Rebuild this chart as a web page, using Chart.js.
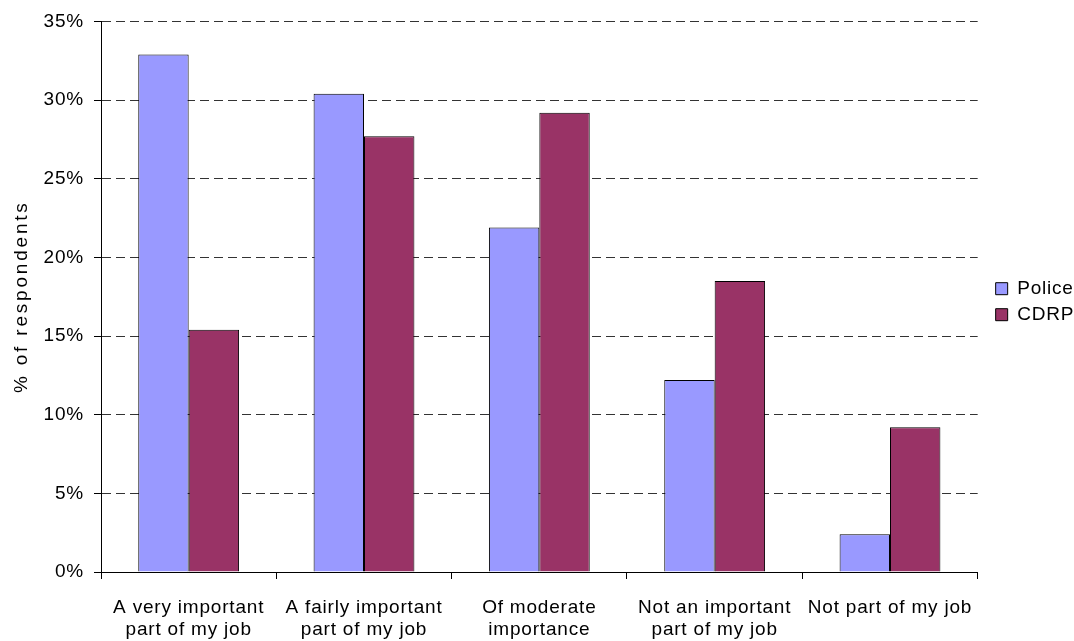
<!DOCTYPE html>
<html>
<head>
<meta charset="utf-8">
<script src="https://cdn.jsdelivr.net/npm/chart.js@4/dist/chart.umd.min.js"></script>
<style>
  html, body { margin: 0; padding: 0; background: #fff; }
  #wrap { width: 1074px; height: 641px; }
</style>
</head>
<body>
<div id="wrap"><canvas id="c" width="1074" height="641"></canvas></div>
<script>
// Importance of the issue to respondents' jobs, by group
const categories = [
  ['A very important', 'part of my job'],
  ['A fairly important', 'part of my job'],
  ['Of moderate', 'importance'],
  ['Not an important', 'part of my job'],
  'Not part of my job'
];
const policeValues = [32.9, 30.4, 21.9, 12.2, 2.4];
const cdrpValues = [15.4, 27.7, 29.2, 18.5, 9.2];
const yTickValues = [0, 5, 10, 15, 20, 25, 30, 35];

const FONT = 'Liberation Sans, Arial, sans-serif';
const TEXT_SPACING = '0.8px';
const TITLE_SPACING = '2.8px';

const canvas = document.getElementById('c');
canvas.getContext('2d').letterSpacing = TEXT_SPACING;

new Chart(canvas, {
  type: 'bar',
  data: {
    labels: categories,
    datasets: [
      { label: 'Police', data: policeValues, backgroundColor: '#9999FF', borderColor: '#000', borderWidth: 1 },
      { label: 'CDRP', data: cdrpValues, backgroundColor: '#993366', borderColor: '#000', borderWidth: 1 }
    ]
  },
  options: {
    responsive: false,
    animation: false,
    devicePixelRatio: 1,
    layout: { padding: { top: 18, right: 4, left: 0, bottom: 0 } },
    datasets: { bar: { categoryPercentage: 0.575, barPercentage: 1.0 } },
    plugins: {
      legend: {
        position: 'right',
        fullSize: false,
        labels: {
          font: { family: FONT, size: 19 },
          color: '#000',
          boxWidth: 12,
          boxHeight: 12,
          padding: 7
        }
      },
      tooltip: { enabled: false }
    },
    scales: {
      x: {
        afterFit: s => { s.height = 69; },
        grid: { offset: true, drawOnChartArea: false, color: '#000', tickLength: 7, lineWidth: 1 },
        border: { color: '#000', width: 1 },
        ticks: { color: '#000', font: { family: FONT, size: 19, lineHeight: 1.15 }, padding: 18, maxRotation: 0, autoSkip: false }
      },
      y: {
        min: 0, max: 35,
        afterFit: s => { s.width = 101; },
        afterBuildTicks: s => { s.ticks = yTickValues.map(v => ({ value: v })); },
        title: { display: true, text: '% of respondents', color: '#000', font: { family: FONT, size: 19 }, padding: { top: 10, bottom: 0 } },
        grid: {
          color: '#333',
          lineWidth: 1,
          tickLength: 7,
          tickColor: '#000',
          tickBorderDash: [],
          borderDash: [9, 5]
        },
        border: { color: '#000', width: 1, dash: [9, 5] },
        ticks: { color: '#000', font: { family: FONT, size: 19 }, padding: 10, callback: v => v + '%' }
      }
    }
  },
  plugins: [{
    // wider tracking for the vertical axis title; legend nudged toward the right edge
    id: 'titleSpacing',
    afterLayout(chart) {
      const lg = chart.legend;
      if (lg) { lg.left += 11; lg.right += 11; lg.top += 5; lg.bottom += 5; }
      const y = chart.scales.y;
      if (y._spacedTitle) return;
      const orig = y.drawTitle;
      y.drawTitle = function () {
        const ctx = this.ctx;
        ctx.letterSpacing = TITLE_SPACING;
        orig.apply(this, arguments);
        ctx.letterSpacing = TEXT_SPACING;
      };
      y._spacedTitle = true;
    }
  }, {
    // solid axis line drawn over the dashed grid at the left edge
    id: 'solidAxis',
    afterDraw(chart) {
      const { ctx, chartArea: a } = chart;
      ctx.save();
      ctx.strokeStyle = '#000';
      ctx.lineWidth = 1;
      ctx.setLineDash([]);
      ctx.beginPath();
      ctx.moveTo(Math.round(a.left) + 0.5, a.top);
      ctx.lineTo(Math.round(a.left) + 0.5, a.bottom);
      ctx.stroke();
      ctx.restore();
    }
  }]
});
</script>
</body>
</html>
